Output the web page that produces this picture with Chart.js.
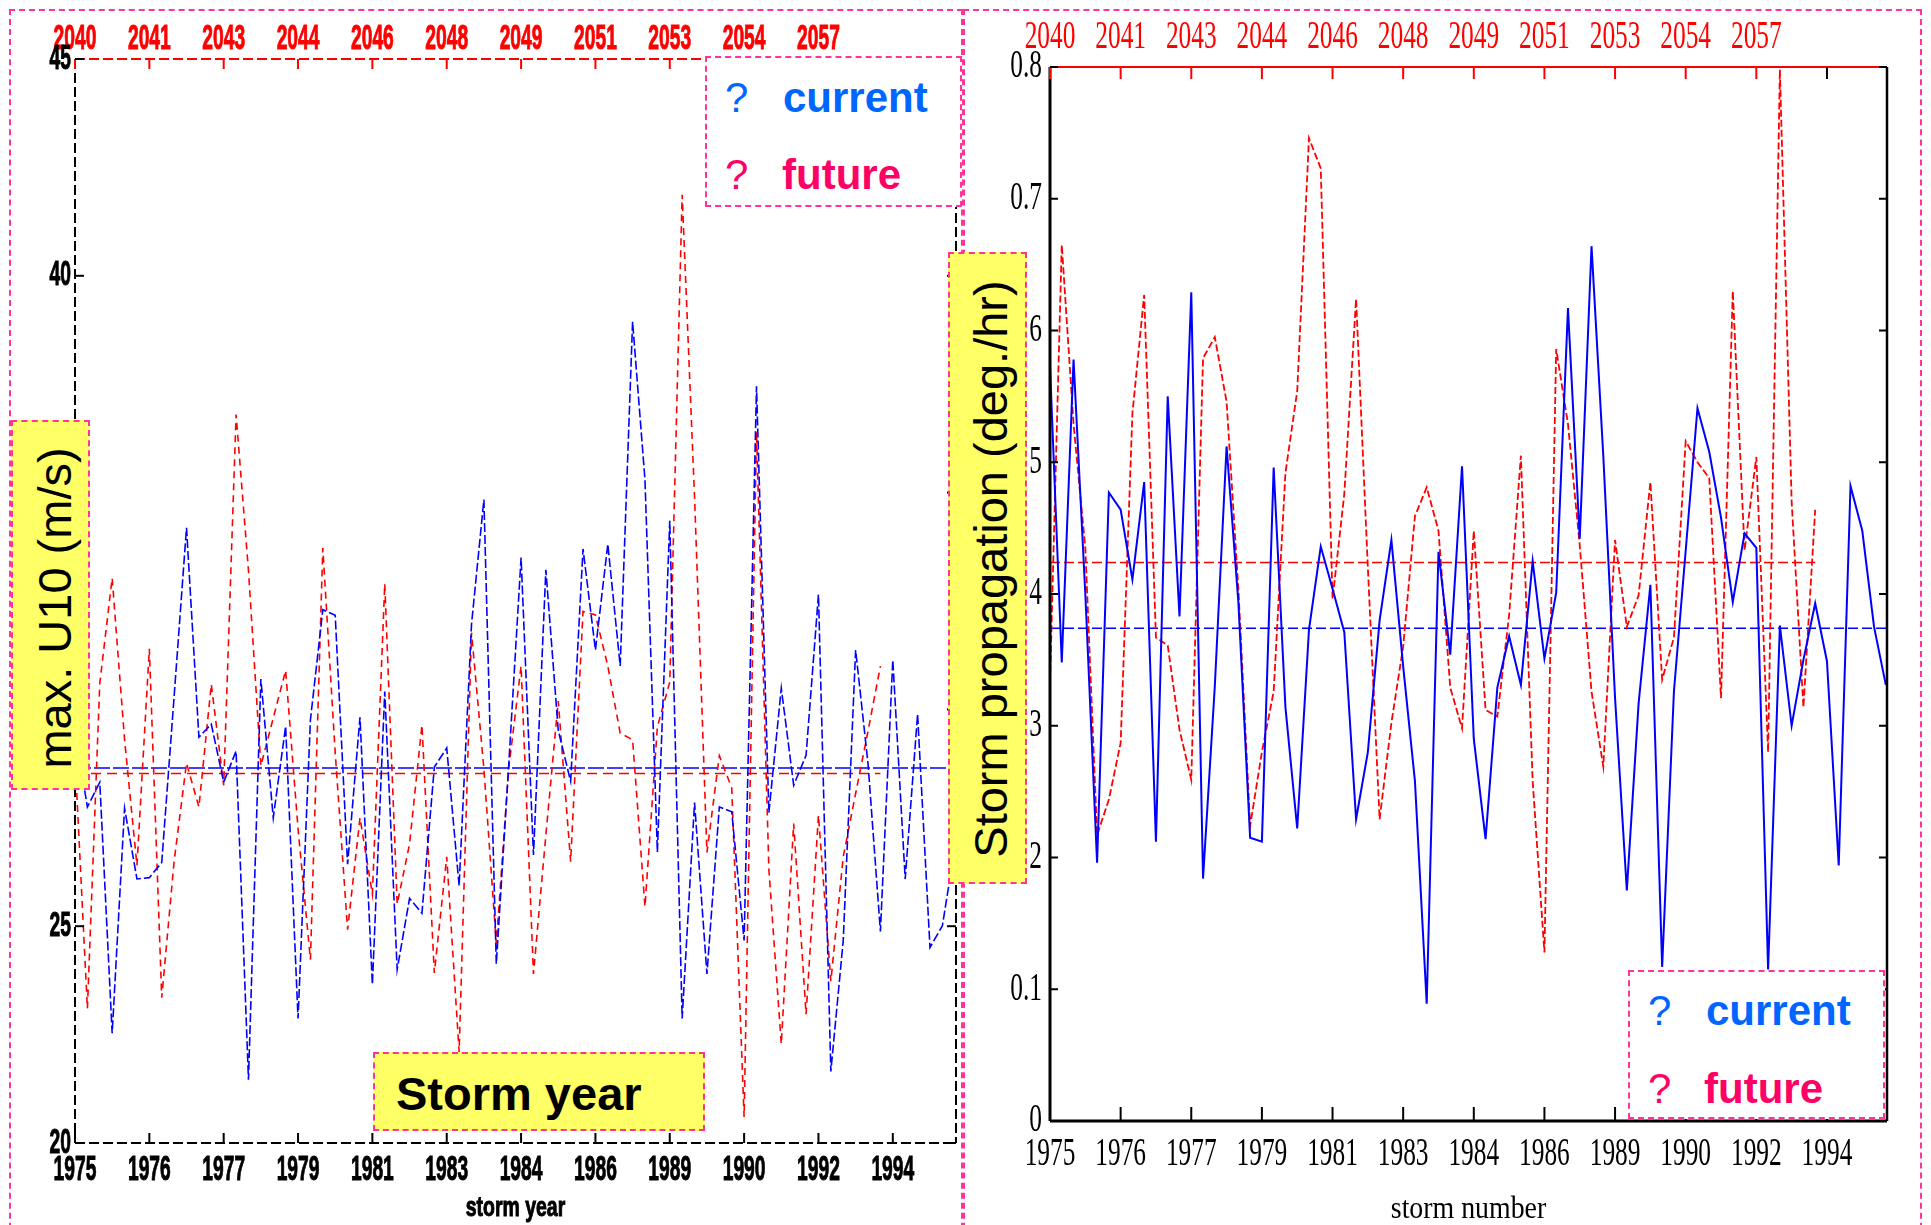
<!DOCTYPE html>
<html>
<head>
<meta charset="utf-8">
<title>Storm intensity and propagation</title>
<script src="https://cdn.jsdelivr.net/npm/chart.js@4.4.1/dist/chart.umd.min.js"></script>
<style>
  html, body { margin: 0; padding: 0; background: #fff; }
  body { position: relative; width: 1931px; height: 1225px; overflow: hidden; font-family: "Liberation Sans", Arial, sans-serif; }
  canvas { position: absolute; top: 0; }
  #windChart { left: 0; }
  #propChart { left: 965px; }
  .panel { position: absolute; box-sizing: border-box; border: 2px dashed #ff3399; }
  .note { position: absolute; box-sizing: border-box; border: 2px dashed #ff3399; background: #ffff66; }
  .note span { position: absolute; white-space: nowrap; color: #000; }
  .side span { font-size: 47px; line-height: 52px; transform: translate(-50%, -50%) rotate(-90deg); }
  .key { position: absolute; box-sizing: border-box; border: 2px dashed #ff3399; background: #fff; }
  .key span { position: absolute; font-size: 42px; line-height: 42px; white-space: nowrap; }
  .key .t { font-weight: bold; }
  .cur { color: #0066ff; }
  .fut { color: #ff0066; }
</style>
</head>
<body>
<div class="panel" style="left:9px; top:9px; width:954px; height:1300px"></div>
<div class="panel" style="left:963px; top:9px; width:959px; height:1300px"></div>

<canvas id="windChart" width="965" height="1225"></canvas>
<canvas id="propChart" width="966" height="1225"></canvas>

<div class="note side" style="left:11px; top:420px; width:79px; height:370px">
  <span style="left:42px; top:186px">max. U10 (m/s)</span>
</div>
<div class="note" style="left:373px; top:1052px; width:332px; height:79px">
  <span style="left:21px; top:16px; font-size:47px; line-height:47px; font-weight:bold">Storm year</span>
</div>
<div class="key" style="left:705px; top:56px; width:257px; height:151px">
  <span class="cur" style="left:18px; top:19px">?</span>
  <span class="cur t" style="left:76px; top:19px">current</span>
  <span class="fut" style="left:18px; top:96px">?</span>
  <span class="fut t" style="left:75px; top:96px">future</span>
</div>

<div class="note side" style="left:948px; top:252px; width:79px; height:632px">
  <span style="left:41px; top:315px">Storm propagation (deg./hr)</span>
</div>
<div class="key" style="left:1628px; top:970px; width:257px; height:149px">
  <span class="cur" style="left:18px; top:18px">?</span>
  <span class="cur t" style="left:76px; top:18px">current</span>
  <span class="fut" style="left:18px; top:96px">?</span>
  <span class="fut t" style="left:74px; top:96px">future</span>
</div>

<script>
// storm number along x, every sixth storm labelled with its year
var stormTicks = [0, 6, 12, 18, 24, 30, 36, 42, 48, 54, 60, 66];
var stormYears = ['1975', '1976', '1977', '1979', '1981', '1983', '1984', '1986', '1989', '1990', '1992', '1994'];
var futureYears = ['2040', '2041', '2043', '2044', '2046', '2048', '2049', '2051', '2053', '2054', '2057'];
var lastStorm = 71.1;

// max. U10 (m/s)
var u10Ticks = [20, 25, 30, 35, 40, 45];
var u10Current = [
    29.5, 27.75, 28.32, 22.53, 27.72, 26.09, 26.12, 26.47, 30.3, 34.19,
    29.36, 29.66, 28.32, 29.04, 21.46, 30.7, 27.5, 29.61, 22.87, 29.76,
    32.3, 32.17, 26.43, 29.82, 23.66, 30.41, 24.0, 25.64, 25.3, 28.67,
    29.11, 25.93, 31.96, 34.84, 24.13, 28.7, 33.5, 26.64, 33.22, 29.52,
    28.34, 33.7, 31.37, 33.81, 31.0, 38.94, 35.29, 26.71, 34.35, 22.87,
    27.85, 23.9, 27.75, 27.64, 24.67, 37.45, 27.62, 30.49, 28.25, 28.94,
    32.65, 21.65, 24.67, 31.37, 28.75, 24.88, 31.14, 26.09, 29.89, 24.51,
    25.01, 26.8
];
var u10Future = [
    28.9, 23.1, 30.6, 33.03, 29.3, 26.4, 31.4, 23.35, 26.5, 28.76,
    27.75, 30.58, 28.25, 36.8, 33.2, 28.7, 29.8, 30.9, 27.25, 24.23,
    33.72, 29.0, 24.92, 27.5, 25.74, 32.9, 25.51, 26.9, 29.64, 23.92,
    26.6, 22.1, 31.77, 28.63, 24.6, 28.63, 31.0, 23.9, 27.1, 30.19,
    26.49, 32.26, 32.18, 31.0, 29.45, 29.3, 25.45, 29.6, 30.63, 41.87,
    34.9, 26.7, 28.93, 28.19, 20.6, 36.4, 26.3, 22.28, 27.37, 22.97,
    27.56, 23.73, 26.6, 28.06, 29.5, 31.0
];
var u10Mean = [28.65, 28.52];   // current, future

// storm propagation (deg./hr)
var propTicks = [0, 0.1, 0.2, 0.3, 0.4, 0.5, 0.6, 0.7, 0.8];
var propTickLabels = ['0', '0.1', '2', '3', '4', '5', '6', '0.7', '0.8'];
var propCurrent = [
    0.573, 0.348, 0.578, 0.40, 0.196, 0.477, 0.464, 0.411, 0.485, 0.212,
    0.55, 0.383, 0.629, 0.184, 0.33, 0.512, 0.394, 0.215, 0.212, 0.496,
    0.314, 0.222, 0.373, 0.436, 0.404, 0.371, 0.229, 0.28, 0.38, 0.441,
    0.345, 0.258, 0.089, 0.432, 0.354, 0.497, 0.29, 0.214, 0.329, 0.368,
    0.331, 0.425, 0.351, 0.401, 0.617, 0.442, 0.664, 0.505, 0.321, 0.175,
    0.317, 0.407, 0.117, 0.326, 0.433, 0.541, 0.508, 0.458, 0.394, 0.446,
    0.435, 0.115, 0.376, 0.30, 0.35, 0.393, 0.349, 0.194, 0.482, 0.448,
    0.375, 0.331
];
var propFuture = [
    0.333, 0.665, 0.529, 0.435, 0.217, 0.244, 0.287, 0.537, 0.627, 0.367,
    0.361, 0.297, 0.259, 0.579, 0.595, 0.546, 0.404, 0.224, 0.28, 0.326,
    0.492, 0.554, 0.746, 0.723, 0.396, 0.476, 0.624, 0.42, 0.229, 0.302,
    0.36, 0.459, 0.481, 0.448, 0.329, 0.298, 0.448, 0.312, 0.307, 0.384,
    0.505, 0.258, 0.128, 0.586, 0.529, 0.437, 0.326, 0.269, 0.441, 0.375,
    0.399, 0.485, 0.335, 0.367, 0.516, 0.50, 0.488, 0.321, 0.63, 0.433,
    0.504, 0.28, 0.798, 0.47, 0.314, 0.464
];
var propMean = [0.374, 0.424];


function pts(arr) {
    return arr.map(function (v, i) { return { x: i, y: v }; });
}

// flat line at the series mean, over the storms the series covers
function level(v, end) {
    return [{ x: 0, y: v }, { x: end, y: v }];
}

function lineSet(data, color, width, dash) {
    return {
        data: data,
        borderColor: color,
        borderWidth: width,
        borderDash: dash,
        pointRadius: 0,
        fill: false,
        tension: 0
    };
}

// narrow the tick text sideways, like the old plot fonts
function squeezeText(ctx, text, x, y, sx, align, heavy) {
    ctx.save();
    ctx.translate(x, y);
    ctx.scale(sx, 1);
    ctx.textAlign = align;
    ctx.fillText(text, 0, 0);
    if (heavy) {
        ctx.lineWidth = heavy;
        ctx.strokeStyle = ctx.fillStyle;
        ctx.strokeText(text, 0, 0);
    }
    ctx.restore();
}

// box around the plot, inward ticks and the squeezed tick labels
function axisFrame(cfg) {
    return {
        id: 'axisFrame',
        afterDraw: function (chart) {
            var ctx = chart.ctx;
            var a = chart.chartArea;
            var xs = chart.scales.x;
            var ys = chart.scales.y;

            function seg(color, width, x1, y1, x2, y2) {
                ctx.strokeStyle = color;
                ctx.lineWidth = width;
                ctx.beginPath();
                ctx.moveTo(x1, y1);
                ctx.lineTo(x2, y2);
                ctx.stroke();
            }

            ctx.save();
            ctx.setLineDash(cfg.dash);
            seg('#000', cfg.widths[0], a.left, a.top, a.left, a.bottom);
            seg('#000', cfg.widths[1], a.left, a.bottom, a.right, a.bottom);
            seg('#000', cfg.widths[2], a.right, a.top, a.right, a.bottom);
            seg('#f00', cfg.widths[3], a.left, a.top, a.right, a.top);

            xs.ticks.forEach(function (t, i) {
                var px = xs.getPixelForValue(t.value);
                seg('#000', 2, px, a.bottom, px, a.bottom - cfg.tick.bottom);
                seg(i < cfg.topLabels.length ? '#f00' : '#000', 2, px, a.top, px, a.top + cfg.tick.top);
            });
            ys.ticks.forEach(function (t) {
                var py = ys.getPixelForValue(t.value);
                seg('#000', 2, a.left, py, a.left + cfg.tick.side, py);
                seg('#000', 2, a.right, py, a.right - cfg.tick.side, py);
            });

            ctx.setLineDash([]);
            ctx.textBaseline = 'middle';
            ctx.font = cfg.font;
            xs.ticks.forEach(function (t, i) {
                var px = xs.getPixelForValue(t.value);
                ctx.fillStyle = '#000';
                squeezeText(ctx, cfg.bottomLabels[i], px, cfg.bottomY, cfg.squeeze, 'center', cfg.heavy);
                if (cfg.topLabels[i]) {
                    ctx.fillStyle = '#f00';
                    squeezeText(ctx, cfg.topLabels[i], px, cfg.topY, cfg.squeeze, 'center', cfg.heavy);
                }
            });
            ctx.fillStyle = '#000';
            ys.ticks.forEach(function (t, i) {
                var py = ys.getPixelForValue(t.value);
                squeezeText(ctx, cfg.yLabels[i], a.left - cfg.yGap, py, cfg.squeeze, 'right', cfg.heavy);
            });

            ctx.font = cfg.titleFont;
            squeezeText(ctx, cfg.title, (a.left + a.right) / 2, cfg.titleY, cfg.titleSqueeze, 'center', cfg.heavy);
            ctx.restore();
        }
    };
}

function stormChart(id, datasets, yMin, yMax, yTicks, pad, yWidth, xHeight, frame) {
    return new Chart(document.getElementById(id), {
        type: 'line',
        data: { datasets: datasets },
        options: {
            responsive: false,
            animation: false,
            devicePixelRatio: 1,
            events: [],
            layout: { padding: pad },
            plugins: {
                legend: { display: false },
                tooltip: { enabled: false }
            },
            scales: {
                x: {
                    type: 'linear',
                    min: 0,
                    max: lastStorm,
                    grid: { display: false },
                    border: { display: false },
                    ticks: { display: false },
                    afterBuildTicks: function (s) {
                        s.ticks = stormTicks.map(function (v) { return { value: v }; });
                    },
                    afterFit: function (s) { s.height = xHeight; }
                },
                y: {
                    type: 'linear',
                    min: yMin,
                    max: yMax,
                    grid: { display: false },
                    border: { display: false },
                    ticks: { display: false },
                    afterBuildTicks: function (s) {
                        s.ticks = yTicks.map(function (v) { return { value: v }; });
                    },
                    afterFit: function (s) { s.width = yWidth; }
                }
            }
        },
        plugins: [axisFrame(frame)]
    });
}

/* LEFT: max. U10 */
stormChart('windChart', [
    lineSet(pts(u10Current), '#0000ff', 1.6, [9, 3]),
    lineSet(pts(u10Future), '#ff0000', 1.6, [7, 5]),
    lineSet(level(u10Mean[0], lastStorm), '#0000ff', 1.6, [16, 3]),
    lineSet(level(u10Mean[1], u10Future.length - 1), '#ff0000', 1.6, [10, 6])
], 20, 45, u10Ticks, { top: 59, right: 9, left: 0, bottom: 0 }, 75, 82, {
    dash: [10, 4],
    widths: [2, 2, 2, 2],
    tick: { bottom: 12, top: 14, side: 9 },
    font: 'bold 35px "Liberation Sans", Arial, sans-serif',
    squeeze: 0.55,
    heavy: 1,
    bottomLabels: stormYears,
    topLabels: futureYears,
    yLabels: u10Ticks.map(String),
    bottomY: 1170,
    topY: 39,
    yGap: 4,
    title: 'storm year',
    titleFont: 'bold 27px "Liberation Sans", Arial, sans-serif',
    titleSqueeze: 0.72,
    titleY: 1209
});

/* RIGHT: storm propagation */
stormChart('propChart', [
    lineSet(pts(propCurrent), '#0000ff', 2, []),
    lineSet(pts(propFuture), '#ff0000', 1.8, [7, 3]),
    lineSet(level(propMean[0], lastStorm), '#0000ff', 1.5, [10, 4]),
    lineSet(level(propMean[1], propFuture.length - 1), '#ff0000', 1.5, [10, 4])
], 0, 0.8, propTicks, { top: 67, right: 44, left: 0, bottom: 0 }, 85, 104, {
    dash: [],
    widths: [3, 3, 2.5, 2],
    tick: { bottom: 14, top: 12, side: 8 },
    font: '39px "Liberation Serif", "Times New Roman", serif',
    squeeze: 0.65,
    heavy: 0,
    bottomLabels: stormYears,
    topLabels: futureYears,
    yLabels: propTickLabels,
    bottomY: 1155,
    topY: 38,
    yGap: 8,
    title: 'storm number',
    titleFont: '32px "Liberation Serif", "Times New Roman", serif',
    titleSqueeze: 0.87,
    titleY: 1210
});
</script>
</body>
</html>
